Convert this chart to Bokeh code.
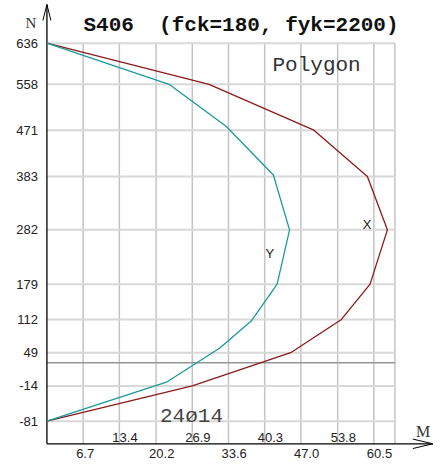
from bokeh.plotting import figure
from bokeh.models import Range1d
from bokeh.core.properties import value
from bokeh.embed import file_html
from bokeh.resources import INLINE

# ---------------- data ----------------
title_text = "S406 \u00a0(fck=180, fyk=2200)"
n_ticks = [636, 558, 471, 383, 282, 179, 112, 49, -14, -81]
n_labels = ["636", "558", "471", "383", "282", "179", "112", "49", "-14", "-81"]
m_ticks = [6.7, 13.4, 20.2, 26.9, 33.6, 40.3, 47.0, 53.8, 60.5]
m_labels = ["6.7", "13.4", "20.2", "26.9", "33.6", "40.3", "47.0", "53.8", "60.5"]
m_limit = 64.4          # right border of the grid
n_line = 30             # reference axial force line

x_m = [0, 30.0, 49.4, 59.3, 63.0, 59.8, 54.5, 45.1, 26.9, 0]
x_n = [636, 558, 471, 383, 282, 179, 112, 49, -14, -81]
y_m = [0, 22.6, 33.2, 41.9, 44.9, 42.6, 37.8, 32.0, 22.1, 0]
y_n = [636, 558, 478, 386, 282, 179, 109, 58, -7, -81]

series_names = ["X", "Y"]
polygon_text = "Polygon"
rebar_text = "24\u00f814"
n_axis_name = "N"
m_axis_name = "M"

# ---------------- layout ----------------
W, H = 448, 464
M0, M1 = -8.59, 74.31
N0, N1 = -163.1, 717.0
KX = W / (M1 - M0)
KY = H / (N1 - N0)


def px2m(px):
    return M0 + px / KX


def py2n(py):
    return N1 - py / KY


AX_N = py2n(443.3)
AX_TOP = py2n(4)
AX_RIGHT = px2m(432.3)
N_TOP = max(n_ticks)

RED = "#8b1a1a"
TEAL = "#1a9a9a"

p = figure(width=W, height=H, x_range=Range1d(M0, M1), y_range=Range1d(N0, N1),
           x_axis_type=None, y_axis_type=None, toolbar_location=None,
           output_backend="svg", min_border=0, outline_line_color=None)
p.background_fill_color = "white"
p.border_fill_color = "white"

# grid
vx = m_ticks + [m_limit]
p.segment(x0=vx, y0=[AX_N] * len(vx), x1=vx, y1=[N_TOP] * len(vx),
          line_color="#c4c4c4", line_width=1.5)
p.segment(x0=[0] * len(n_ticks), y0=n_ticks, x1=[m_limit] * len(n_ticks), y1=n_ticks,
          line_color="#d8d8d8", line_width=2)
p.segment(x0=[0], y0=[n_line], x1=[m_limit], y1=[n_line],
          line_color="#959595", line_width=1.5)

# axes with arrows
p.line([0, 0], [AX_N, AX_TOP], line_color="black", line_width=1.3)
p.line([0, AX_RIGHT], [AX_N, AX_N], line_color="black", line_width=1.3)
p.line([-4 / KX, 0, 4 / KX], [AX_TOP - 16 / KY, AX_TOP, AX_TOP - 16 / KY],
       line_color="black", line_width=1)
p.line([AX_RIGHT - 20 / KX, AX_RIGHT, AX_RIGHT - 20 / KX],
       [AX_N + 4.75 / KY, AX_N, AX_N - 4.75 / KY], line_color="black", line_width=1)

# curves
p.line(x_m, x_n, line_color=RED, line_width=1.3)
p.line(y_m, y_n, line_color=TEAL, line_width=1.3)

sans = value("Liberation Sans")
mono = value("Liberation Mono")
serif = value("Liberation Serif")

# y tick labels
p.text(x=[-9 / KX] * len(n_ticks), y=n_ticks, text=n_labels, text_font=sans,
       text_font_size="13px", text_align="right", text_baseline="middle",
       text_color="#222222")

# x tick labels (staggered)
low_x = [m_ticks[i] - 7 / KX for i in range(0, len(m_ticks), 2)]
low_t = [m_labels[i] for i in range(0, len(m_ticks), 2)]
up_x = [m_ticks[i] - 7 / KX for i in range(1, len(m_ticks), 2)]
up_t = [m_labels[i] for i in range(1, len(m_ticks), 2)]
p.text(x=low_x, y=[AX_N - 9.4 / KY] * len(low_x), text=low_t, text_font=sans,
       text_font_size="13px", text_align="left", text_baseline="middle",
       text_color="#222222")
p.text(x=up_x, y=[AX_N + 6 / KY] * len(up_x), text=up_t, text_font=sans,
       text_font_size="13px", text_align="left", text_baseline="middle",
       text_color="#222222")

# title
p.text(x=[px2m(83)], y=[py2n(25.3)], text=[title_text], text_font=mono,
       text_font_style="bold", text_font_size="21px", text_align="left",
       text_baseline="alphabetic", text_color="#111111")

# annotations
p.text(x=[px2m(272)], y=[py2n(65.3)], text=[polygon_text], text_font=mono,
       text_font_size="21px", text_align="left", text_baseline="alphabetic",
       text_color="#333333")
p.text(x=[px2m(159.5)], y=[py2n(415.5)], text=[rebar_text], text_font=mono,
       text_font_size="21px", text_align="left", text_baseline="alphabetic",
       text_color="#444444")
p.text(x=[px2m(366.7), px2m(269.3)], y=[py2n(223.7), py2n(253.3)], text=series_names,
       text_font=sans, text_font_size="13px", text_align="center",
       text_baseline="middle", text_color="#222222")
p.text(x=[px2m(25)], y=[py2n(22.7)], text=[n_axis_name], text_font=serif,
       text_font_size="15px", text_align="left", text_baseline="alphabetic",
       text_color="#333333")
p.text(x=[px2m(415.5)], y=[py2n(430.5)], text=[m_axis_name], text_font=serif,
       text_font_size="16px", text_align="left", text_baseline="alphabetic",
       text_color="#333333")

open("out.html", "w").write(file_html(p, INLINE))
